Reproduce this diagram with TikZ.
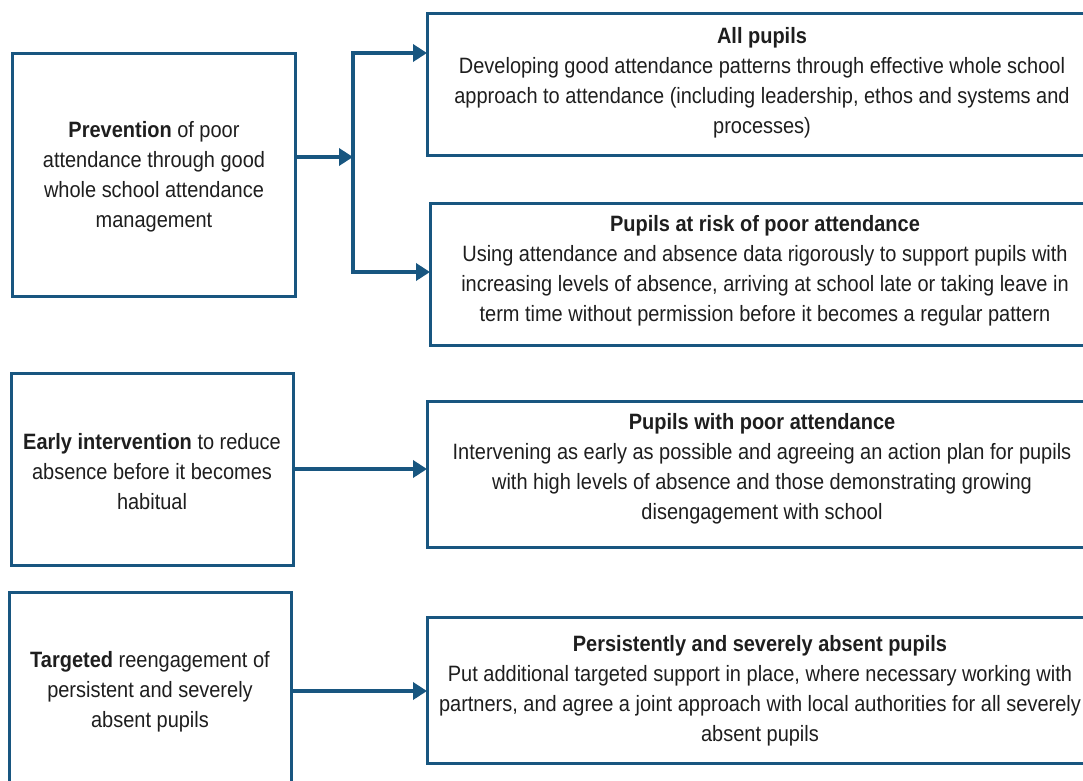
\documentclass[tikz,border=0pt]{standalone}
\usepackage{fontspec}
\setmainfont[FakeStretch=0.9]{Liberation Sans}
\usetikzlibrary{arrows.meta,calc}
\definecolor{dblue}{RGB}{24,86,128}
\definecolor{txt}{RGB}{30,30,30}
\begin{document}
\begin{tikzpicture}[x=1pt,y=-1pt,
  box/.style={draw=dblue,line width=3pt,inner sep=0pt,outer sep=0pt,rectangle},
  lbl/.style={align=center,text=txt,font=\fontsize{22.2}{30}\selectfont,inner sep=0pt},
  conn/.style={draw=dblue,line width=3.5pt},
  arr/.style={conn,-{Triangle[length=14pt,width=17pt]}}]
\useasboundingbox (0,0) rectangle (1083,780);
\clip (0,0) rectangle (1083,780);
% boxes
\node[box,minimum width=283pt,minimum height=243pt] (L1) at (153.5,174.5) {};
\node[box,minimum width=282pt,minimum height=192pt] (L2) at (152,469) {};
\node[box,minimum width=282pt,minimum height=198pt] (L3) at (150,691) {};
\node[box,minimum width=670pt,minimum height=142pt] (R1) at (762,84) {};
\node[box,minimum width=667pt,minimum height=142pt] (R2) at (763.5,274) {};
\node[box,minimum width=670pt,minimum height=146pt] (R3) at (762,474) {};
\node[box,minimum width=670pt,minimum height=146pt] (R4) at (762,690) {};
% texts
\node[lbl] (tL1) at (154,177) {\textbf{Prevention} of poor\\attendance through good\\whole school attendance\\management};
\node[lbl] (tL2) at (152,471.5) {\textbf{Early intervention} to reduce\\absence before it becomes\\habitual};
\node[lbl] (tL3) at (150,691.5) {\textbf{Targeted} reengagement of\\persistent and severely\\absent pupils};
\node[lbl] (tR1) at (762,83) {\textbf{All pupils}\\Developing good attendance patterns through effective whole school\\approach to attendance (including leadership, ethos and systems and\\processes)};
\node[lbl] (tR2) at (765,270.5) {\textbf{Pupils at risk of poor attendance}\\Using attendance and absence data rigorously to support pupils with\\increasing levels of absence, arriving at school late or taking leave in\\term time without permission before it becomes a regular pattern};
\node[lbl] (tR3) at (762,469) {\textbf{Pupils with poor attendance}\\Intervening as early as possible and agreeing an action plan for pupils\\with high levels of absence and those demonstrating growing\\disengagement with school};
\node[lbl] (tR4) at (760,691) {\textbf{Persistently and severely absent pupils}\\Put additional targeted support in place, where necessary working with\\partners, and agree a joint approach with local authorities for all severely\\absent pupils};
% connectors
\coordinate (jt) at (353,53);
\coordinate (jm) at (353,157);
\coordinate (jb) at (353,272);
\coordinate (m2) at (0,469);
\coordinate (m3) at (0,691);
\draw[arr] (L1.east |- jm) -- (jm);
\draw[conn,line cap=rect] (jt) -- (jb);
\draw[arr] (jt) -- (R1.west |- jt);
\draw[arr] (jb) -- (R2.west |- jb);
\draw[arr] (L2.east |- m2) -- (R3.west |- m2);
\draw[arr] (L3.east |- m3) -- (R4.west |- m3);
\end{tikzpicture}
\end{document}
